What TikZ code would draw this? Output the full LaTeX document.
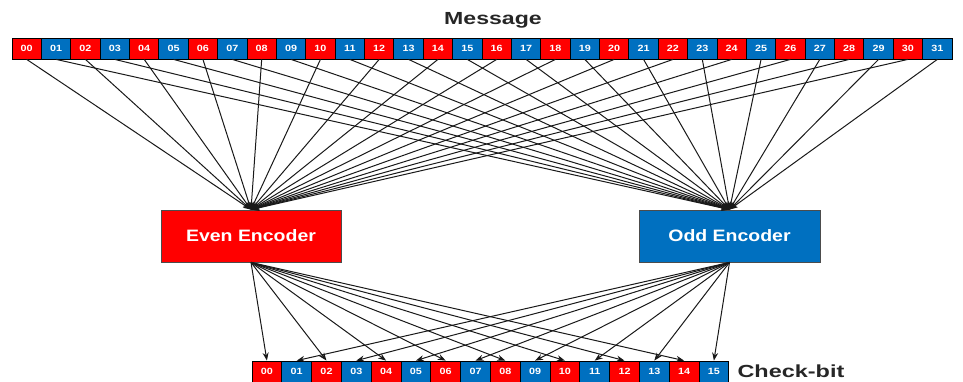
\documentclass[tikz,border=0pt]{standalone}
\usepackage{fontspec}
\setmainfont{Liberation Sans}
\definecolor{bitred}{RGB}{255, 0, 0}
\definecolor{bitblue}{RGB}{0, 112, 192}
\usetikzlibrary{arrows.meta, positioning}
\newcommand{\widetext}[2]{\scalebox{#1}[1]{#2}}

\begin{document}
\begin{tikzpicture}[x=1pt, y=-1pt,
    bitcell/.style={draw=black, line width=0.8pt, minimum height=21pt, inner sep=0pt,
                    text=white, font=\fontsize{9}{10}\selectfont\bfseries},
    encbox/.style={draw=black!70, line width=0.8pt, minimum height=52pt, inner sep=0pt,
                   text=white, font=\fontsize{16.5}{18}\selectfont\bfseries},
    wire/.style={line width=1pt, draw=black!90, -{Stealth[length=8pt, width=6pt]}},
    title/.style={font=\fontsize{17.5}{19}\selectfont\bfseries, text=black!85}]
    \useasboundingbox (0,0) rectangle (963,381);

    % message bits
    \foreach \i in {0,...,31} {
        \pgfmathsetmacro{\cx}{12+(\i+0.5)*29.375}
        \ifodd\i \def\clr{bitblue}\else \def\clr{bitred}\fi
        \node[bitcell, minimum width=29.375pt, fill=\clr] (m\i) at (\cx,48.5)
            {\widetext{1.2}{\ifnum\i<10 0\fi\i}};
    }
    \node[title] (msg) at (493,20) {\widetext{1.32}{Message}};

    % encoders
    \node[encbox, minimum width=180pt, fill=bitred] (even) at (251,236)
        {\widetext{1.18}{Even Encoder}};
    \node[encbox, minimum width=181pt, fill=bitblue] (odd) at (729.5,236)
        {\widetext{1.18}{Odd Encoder}};

    % check bits
    \foreach \i in {0,...,15} {
        \pgfmathsetmacro{\cx}{252+(\i+0.5)*29.8}
        \ifodd\i \def\clr{bitblue}\else \def\clr{bitred}\fi
        \node[bitcell, minimum width=29.8pt, fill=\clr] (c\i) at (\cx,371.5)
            {\widetext{1.2}{\ifnum\i<10 0\fi\i}};
    }
    \node[title, anchor=west] (chk) at (734,371) {\widetext{1.34}{Check-bit}};

    % wiring
    \foreach \i in {0,2,...,30}
        \draw[wire] (m\i.south) -- (even.north);
    \foreach \i in {1,3,...,31}
        \draw[wire] (m\i.south) -- (odd.north);
    \foreach \i in {0,2,...,14}
        \draw[wire] (even.south) -- (c\i.north);
    \foreach \i in {1,3,...,15}
        \draw[wire] (odd.south) -- (c\i.north);
\end{tikzpicture}
\end{document}
